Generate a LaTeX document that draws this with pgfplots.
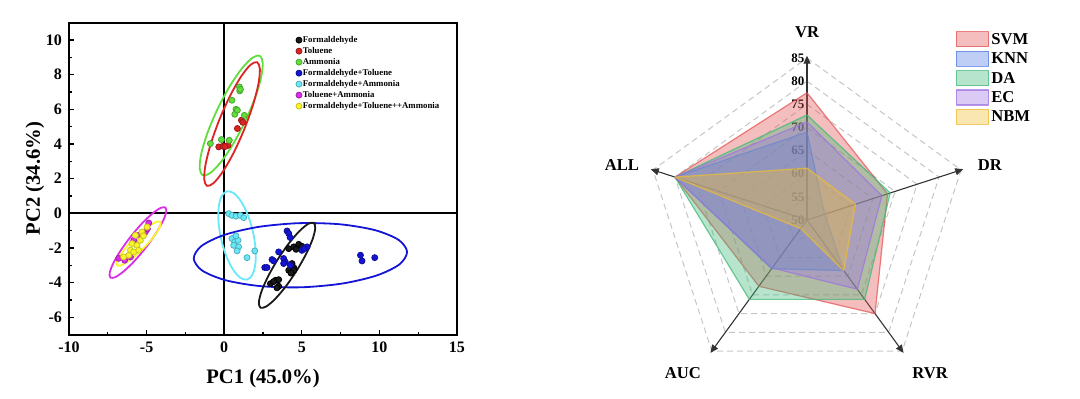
\documentclass[border=0pt]{standalone}
\usepackage{fontspec}
\setmainfont{Liberation Serif}
\usepackage{pgfplots}
\pgfplotsset{compat=1.18}
\usepackage{pgfplotstable}
\usetikzlibrary{arrows.meta}

\definecolor{cBlack}{RGB}{25,25,25}
\definecolor{cRed}{RGB}{222,35,35}
\definecolor{cGreen}{RGB}{95,222,60}
\definecolor{cBlue}{RGB}{20,20,215}
\definecolor{cCyan}{RGB}{105,232,250}
\definecolor{cMag}{RGB}{218,45,230}
\definecolor{cYel}{RGB}{250,245,40}

\definecolor{rSVM}{RGB}{228,85,85}
\definecolor{rKNN}{RGB}{85,125,225}
\definecolor{rDA}{RGB}{65,185,120}
\definecolor{rEC}{RGB}{160,115,225}
\definecolor{rNBM}{RGB}{238,188,50}

\pgfplotstableread{
ang SVM KNN DA EC NBM
90 77.5 69.0 72.7 71.2 61.2
18 68.3 54.0 68.9 67.0 61.0
-54 75.0 63.5 71.2 68.5 63.5
-126 67.7 63.0 71.2 62.8 52.3
162 80.0 80.0 80.0 80.0 80.0
90 77.5 69.0 72.7 71.2 61.2
}\radar

\begin{document}
\begin{tikzpicture}
\useasboundingbox (0,0) rectangle (540pt,199pt);
% ---------------- PCA panel ----------------
\begin{axis}[
  at={(34.5pt,31.7pt)}, anchor=south west,
  scale only axis, width=194pt, height=156pt,
  xmin=-10, xmax=15, ymin=-7, ymax=11,
  xtick={-10,-5,0,5,10,15}, ytick={-6,-4,-2,0,2,4,6,8,10},
  minor x tick num=1, minor y tick num=1,
  tick align=inside, tick pos=left,
  major tick length=2.5pt, minor tick length=1.5pt,
  axis line style={line width=1pt},
  every tick/.style={black, line width=0.6pt},
  /pgf/number format/assume math mode=true,
  ticklabel style={font=\bfseries\fontsize{8}{9}\selectfont},
  xlabel={PC1 (45.0\%)}, ylabel={PC2 (34.6\%)},
  label style={font=\bfseries\fontsize{10.3}{12}\selectfont},
  x label style={at={(axis description cs:0.5,-0.142)}, anchor=center},
  y label style={at={(axis description cs:-0.088,0.5)}, anchor=center},
  legend style={at={(axis cs:4.6,10.3)}, anchor=north west, draw=none, fill=none,
    inner sep=0pt, font=\bfseries\fontsize{4.4}{5}\selectfont,
    nodes={inner sep=0.4pt, text height=3.2pt, text depth=1pt}, row sep=0.5pt},
  legend cell align=left,
  legend image code/.code={\draw[mark repeat=2,mark phase=2,#1] plot coordinates {(0pt,0pt)(3pt,0pt)(6pt,0pt)};},
]
\draw[black, line width=0.8pt] (axis cs:0,-7) -- (axis cs:0,11);
\draw[black, line width=0.8pt] (axis cs:-10,0) -- (axis cs:15,0);

% confidence ellipses
\addplot[cGreen, line width=0.9pt, smooth cycle, forget plot] coordinates {
(2.287,9.083) (2.484,8.677) (2.371,7.808) (1.967,6.612) (1.331,5.264) (0.561,3.974) (-0.225,2.940) (-0.908,2.315)
(-1.385,2.197) (-1.582,2.603) (-1.469,3.472) (-1.065,4.668) (-0.429,6.016) (0.341,7.306) (1.127,8.340) (1.810,8.965)};
\addplot[cRed, line width=0.9pt, smooth cycle, forget plot] coordinates {
(2.115,8.718) (2.298,8.336) (2.206,7.469) (1.857,6.250) (1.301,4.861) (0.623,3.516) (-0.072,2.423) (-0.680,1.742)
(-1.107,1.582) (-1.290,1.964) (-1.198,2.831) (-0.849,4.050) (-0.293,5.439) (0.385,6.784) (1.080,7.877) (1.688,8.558)};
\addplot[cCyan, line width=0.9pt, smooth cycle, forget plot] coordinates {
(1.471,-3.829) (1.815,-3.555) (2.007,-2.935) (2.022,-2.064) (1.853,-1.072) (1.528,-0.112) (1.097,0.669) (0.625,1.155)
(0.183,1.269) (-0.161,0.995) (-0.353,0.375) (-0.368,-0.496) (-0.199,-1.488) (0.126,-2.448) (0.557,-3.229) (1.029,-3.715)};
\addplot[cBlue, line width=0.9pt, smooth cycle, forget plot] coordinates {
(11.783,-2.228) (11.286,-2.952) (9.814,-3.592) (7.601,-4.055) (4.974,-4.270) (2.337,-4.203) (0.096,-3.864) (-1.416,-3.306)
(-1.963,-2.612) (-1.466,-1.888) (0.006,-1.248) (2.219,-0.785) (4.846,-0.570) (7.483,-0.637) (9.724,-0.976) (11.236,-1.534)};
\addplot[cBlack, line width=0.9pt, smooth cycle, forget plot] coordinates {
(5.768,-0.557) (5.866,-0.873) (5.688,-1.513) (5.261,-2.377) (4.649,-3.339) (3.945,-4.249) (3.258,-4.967) (2.692,-5.387)
(2.332,-5.443) (2.234,-5.127) (2.412,-4.487) (2.839,-3.623) (3.451,-2.661) (4.155,-1.751) (4.842,-1.033) (5.408,-0.613)};
\addplot[cMag, line width=0.9pt, smooth cycle, forget plot] coordinates {
(-3.788,0.330) (-3.742,0.048) (-3.973,-0.497) (-4.444,-1.224) (-5.087,-2.023) (-5.802,-2.772) (-6.479,-3.353) (-7.016,-3.684)
(-7.332,-3.710) (-7.378,-3.428) (-7.147,-2.883) (-6.676,-2.156) (-6.033,-1.357) (-5.318,-0.608) (-4.641,-0.027) (-4.104,0.304)};
\addplot[cYel, line width=0.9pt, smooth cycle, forget plot] coordinates {
(-4.114,-0.500) (-4.104,-0.699) (-4.308,-1.058) (-4.694,-1.522) (-5.206,-2.022) (-5.764,-2.480) (-6.282,-2.826) (-6.684,-3.009)
(-6.906,-3.000) (-6.916,-2.801) (-6.712,-2.442) (-6.326,-1.978) (-5.814,-1.478) (-5.256,-1.020) (-4.738,-0.674) (-4.336,-0.491)};

% scatter points
\addplot[only marks, mark=*, mark size=1.5pt, mark options={fill=cBlack, draw=black}] coordinates {
(4.16,-2.04) (4.48,-1.94) (4.80,-1.79) (4.63,-2.08) (5.0,-1.9) (4.37,-2.90) (4.48,-3.13) (4.16,-3.29) (4.48,-3.29) (4.3,-3.45)
(3.30,-3.87) (3.51,-3.83) (2.98,-4.06) (3.51,-4.21) (3.19,-3.94) (3.4,-4.3)};
\addlegendentry{Formaldehyde}
\addplot[only marks, mark=*, mark size=1.5pt, mark options={fill=cRed, draw=cRed!70!black}] coordinates {
(1.11,5.37) (1.2,5.25) (0.85,4.89) (-0.35,3.83) (-0.08,3.87) (0.25,3.92) (0.05,3.85)};
\addlegendentry{Toluene}
\addplot[only marks, mark=*, mark size=1.5pt, mark options={fill=cGreen, draw=cGreen!75!black}] coordinates {
(0.98,7.29) (1.0,7.06) (1.05,7.15) (0.50,6.52) (0.76,6.0) (0.68,5.71) (1.30,5.65) (0.85,5.95) (-0.89,4.02) (-0.18,4.25) (0.33,4.21)};
\addlegendentry{Ammonia}
\addplot[only marks, mark=*, mark size=1.5pt, mark options={fill=cBlue, draw=cBlue!70!black}] coordinates {
(4.05,-1.02) (4.16,-1.17) (4.25,-1.40) (3.51,-2.23) (3.08,-2.67) (3.19,-2.75) (2.61,-3.13) (2.76,-3.13) (3.83,-2.61) (3.94,-2.81)
(3.83,-2.90) (4.26,-3.0) (5.01,-2.14) (5.34,-1.94) (5.15,-2.05) (8.78,-2.42) (8.88,-2.75) (9.70,-2.56)};
\addlegendentry{Formaldehyde+Toluene}
\addplot[only marks, mark=*, mark size=1.5pt, mark options={fill=cCyan, draw=cCyan!75!black}] coordinates {
(0.29,-0.02) (0.50,-0.12) (0.76,-0.17) (1.04,-0.12) (1.26,-0.25) (0.50,-1.46) (0.68,-1.65) (0.89,-1.56) (0.61,-1.85) (0.93,-1.94)
(0.83,-2.17) (1.47,-2.56) (1.97,-2.17) (0.75,-1.30)};
\addlegendentry{Formaldehyde+Ammonia}
\addplot[only marks, mark=*, mark size=1.5pt, mark options={fill=cMag, draw=cMag!75!black}] coordinates {
(-4.86,-0.56) (-5.08,-1.08) (-5.51,-1.27) (-5.83,-1.56) (-6.80,-2.60) (-6.41,-2.71) (-6.04,-2.52) (-4.95,-0.90)};
\addlegendentry{Toluene+Ammonia}
\addplot[only marks, mark=*, mark size=1.5pt, mark options={fill=cYel, draw=cYel!80!black}] coordinates {
(-4.97,-0.79) (-5.30,-1.08) (-5.72,-1.27) (-5.40,-1.56) (-5.94,-1.75) (-5.62,-1.85) (-6.04,-2.13) (-5.83,-2.23) (-6.15,-2.42)
(-5.51,-2.13) (-6.48,-2.52) (-5.2,-1.30)};
\addlegendentry{Formaldehyde+Toluene++Ammonia}
\end{axis}

% ---------------- Radar panel ----------------
\begin{axis}[
  at={(403.5pt,89pt)}, anchor=center,
  scale only axis, width=208.3pt, height=185.1pt,
  xmin=-45, xmax=45, ymin=-40, ymax=40,
  hide axis, clip=false,
  legend style={at={(axis cs:32.0,41.1)}, anchor=north west, draw=none, fill=none,
    inner sep=0pt, font=\bfseries\fontsize{8.3}{10}\selectfont,
    nodes={inner sep=1pt, text height=6pt, text depth=1pt}, row sep=0.7pt},
  legend cell align=left,
  legend image code/.code={\draw[#1] (0pt,-3.75pt) rectangle (16.3pt,3.75pt);},
]
% dashed grid pentagons
\pgfplotsinvokeforeach{5,10,15,20,25,30,35}{
  \addplot[gray!45, line width=0.5pt, dash pattern=on 3pt off 2pt, forget plot]
    table[x expr={#1*cos(\thisrow{ang})}, y expr={#1*sin(\thisrow{ang})}] {\radar};
}
% radial value labels
\pgfplotsinvokeforeach{50,55,60,65,70,75,80,85}{
  \node[anchor=east, inner sep=0pt, font=\bfseries\fontsize{6.5}{7}\selectfont] at (axis cs:-0.5,{#1-50}) {#1};
}
% axes with arrows
\pgfplotsinvokeforeach{90,18,-54,-126,162}{
  \draw[black!80, line width=0.55pt, -{Triangle[length=4pt,width=3.5pt]}] (axis cs:0,0) -- (axis cs:{35.5*cos(#1)},{35.5*sin(#1)});
}
% polygons
\addplot[fill=rSVM, fill opacity=0.38, draw=rSVM, draw opacity=0.75, line width=0.6pt, line join=round]
  table[x expr={(\thisrow{SVM}-50)*cos(\thisrow{ang})}, y expr={(\thisrow{SVM}-50)*sin(\thisrow{ang})}] {\radar};
\addlegendentry{SVM}
\addplot[fill=rKNN, fill opacity=0.38, draw=rKNN, draw opacity=0.75, line width=0.6pt, line join=round]
  table[x expr={(\thisrow{KNN}-50)*cos(\thisrow{ang})}, y expr={(\thisrow{KNN}-50)*sin(\thisrow{ang})}] {\radar};
\addlegendentry{KNN}
\addplot[fill=rDA, fill opacity=0.38, draw=rDA, draw opacity=0.75, line width=0.6pt, line join=round]
  table[x expr={(\thisrow{DA}-50)*cos(\thisrow{ang})}, y expr={(\thisrow{DA}-50)*sin(\thisrow{ang})}] {\radar};
\addlegendentry{DA}
\addplot[fill=rEC, fill opacity=0.38, draw=rEC, draw opacity=0.75, line width=0.6pt, line join=round]
  table[x expr={(\thisrow{EC}-50)*cos(\thisrow{ang})}, y expr={(\thisrow{EC}-50)*sin(\thisrow{ang})}] {\radar};
\addlegendentry{EC}
\addplot[fill=rNBM, fill opacity=0.38, draw=rNBM, draw opacity=0.75, line width=0.6pt, line join=round]
  table[x expr={(\thisrow{NBM}-50)*cos(\thisrow{ang})}, y expr={(\thisrow{NBM}-50)*sin(\thisrow{ang})}] {\radar};
\addlegendentry{NBM}
% axis names
\node[font=\bfseries\fontsize{8.3}{10}\selectfont] at (axis cs:0,40.6) {VR};
\node[font=\bfseries\fontsize{8.3}{10}\selectfont] at (axis cs:39.5,11.9) {DR};
\node[font=\bfseries\fontsize{8.3}{10}\selectfont] at (axis cs:26.6,-33.1) {RVR};
\node[font=\bfseries\fontsize{8.3}{10}\selectfont] at (axis cs:-26.8,-33.1) {AUC};
\node[font=\bfseries\fontsize{8.3}{10}\selectfont] at (axis cs:-40,11.9) {ALL};
\end{axis}
\end{tikzpicture}
\end{document}
